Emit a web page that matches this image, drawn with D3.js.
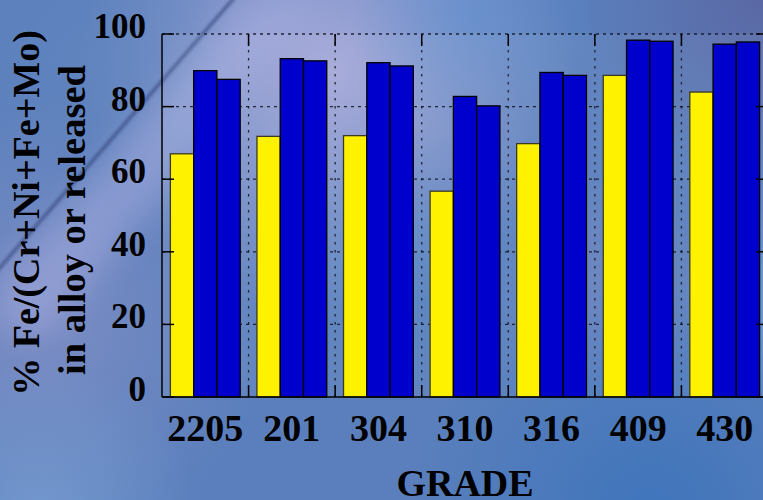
<!DOCTYPE html>
<html>
<head>
<meta charset="utf-8">
<script src="https://cdn.jsdelivr.net/npm/d3@7/dist/d3.min.js"></script>
<style>
  html, body { margin: 0; padding: 0; overflow: hidden; background: #5a7fbc; }
  svg { display: block; }
  text { font-family: "Liberation Serif", "Times New Roman", serif; font-weight: bold; fill: #000; }
</style>
</head>
<body>
<svg id="chart" width="763" height="500"></svg>
<script>
// ---- data ----
const categories = ["2205", "201", "304", "310", "316", "409", "430"];
const seriesNames = ["alloy", "released1", "released2"];
const alloyValues = [67.0, 71.8, 72.0, 56.7, 69.8, 88.6, 84.0];
const released1Values = [89.9, 93.2, 92.1, 82.8, 89.4, 98.3, 97.2];
const released2Values = [87.5, 92.6, 91.2, 80.2, 88.6, 98.0, 97.8];
const yTicks = [0, 20, 40, 60, 80, 100];
const gridValues = [20, 40, 60, 80, 100];
const seriesColors = ["#fff200", "#0000cc", "#0000cc"];
const xTitle = "GRADE";
const yTitleLines = ["% Fe/(Cr+Ni+Fe+Mo)", "in alloy or released"];

const W = 763, H = 500;
const margin = { left: 162, right: -5, top: 34, bottom: 103 };
const x0 = margin.left, x1 = W - margin.right, yTop = margin.top, yBot = H - margin.bottom;

const svg = d3.select("#chart");
const defs = svg.append("defs");

// ---- background ----
function radial(id, cx, cy, r, color, op) {
  const g = defs.append("radialGradient").attr("id", id)
    .attr("gradientUnits", "userSpaceOnUse").attr("cx", cx).attr("cy", cy).attr("r", r);
  g.append("stop").attr("offset", "0%").attr("stop-color", color).attr("stop-opacity", op);
  g.append("stop").attr("offset", "100%").attr("stop-color", color).attr("stop-opacity", 0);
  svg.append("rect").attr("width", W).attr("height", H).attr("fill", `url(#${id})`);
}
svg.append("rect").attr("width", W).attr("height", H).attr("fill", "#5a7fbc");
radial("g1", 330, 70, 250, "#aeaedc", 0.9);
radial("g2", 40, 320, 230, "#8490c6", 0.8);
radial("g3", 40, 520, 160, "#7ea6d8", 0.6);
radial("g4", 760, 0, 180, "#5a5c98", 0.65);
radial("g5", 650, 520, 240, "#3370bb", 0.7);
radial("g6", 790, 300, 110, "#72aee0", 0.5);
radial("g7", 470, 15, 120, "#5a92d2", 0.45);
radial("g8", 90, 60, 150, "#6688c0", 0.55);
radial("g9", 420, 260, 130, "#4f84c4", 0.45);
radial("g10", 600, 280, 110, "#7a84c0", 0.4);

const blur = defs.append("filter").attr("id", "blurBand").attr("x", "-50%").attr("y", "-50%").attr("width", "200%").attr("height", "200%");
blur.append("feGaussianBlur").attr("stdDeviation", 16);
const blur2 = defs.append("filter").attr("id", "blurLine");
blur2.append("feGaussianBlur").attr("stdDeviation", 1.4);

svg.append("polygon")
  .attr("points", "245,0 320,0 50,330 0,330 0,285")
  .attr("fill", "#a8aee0").attr("opacity", 0.5).attr("filter", "url(#blurBand)");
svg.append("line")
  .attr("x1", 234).attr("y1", -2).attr("x2", -4).attr("y2", 272)
  .attr("stroke", "#2e3e74").attr("stroke-width", 3.5).attr("opacity", 0.6)
  .attr("filter", "url(#blurLine)");

// ---- scales ----
const x = d3.scaleBand().domain(categories).range([x0, x1]).paddingInner(0).paddingOuter(0);
const xs = d3.scaleBand().domain(seriesNames).range([0, x.bandwidth()]).paddingInner(0).paddingOuter(0.36);
const y = d3.scaleLinear().domain([0, 100]).range([yBot, yTop]);

// plot area tint
svg.append("rect").attr("x", x0).attr("y", yTop).attr("width", x1 - x0).attr("height", yBot - yTop)
  .attr("fill", "#ffffff").attr("opacity", 0.05);

// ---- grid ----
const boundaries = categories.slice(1).map(c => x(c));
const grid = svg.append("g").attr("stroke", "#101018").attr("stroke-width", 1.3).attr("fill", "none");
grid.selectAll("line.h").data(gridValues).join("line")
  .attr("x1", x0).attr("x2", x1).attr("y1", d => y(d)).attr("y2", d => y(d))
  .attr("stroke-dasharray", "3,4").attr("opacity", 0.85);
grid.selectAll("line.v").data(boundaries).join("line")
  .attr("x1", d => d).attr("x2", d => d).attr("y1", yTop).attr("y2", yBot)
  .attr("stroke-dasharray", "2.5,5.5").attr("opacity", 0.85);

// ---- bars ----
const rows = categories.map((c, i) => ({
  cat: c,
  vals: [alloyValues[i], released1Values[i], released2Values[i]]
}));
const groups = svg.append("g").selectAll("g").data(rows).join("g")
  .attr("transform", d => `translate(${x(d.cat)},0)`);
groups.selectAll("rect").data(d => d.vals.map((v, k) => ({ s: seriesNames[k], v, k }))).join("rect")
  .attr("x", d => xs(d.s))
  .attr("width", xs.bandwidth())
  .attr("y", d => y(d.v))
  .attr("height", d => y(0) - y(d.v))
  .attr("fill", d => seriesColors[d.k])
  .attr("stroke", d => d.k === 0 ? "#3a3a20" : "#000")
  .attr("stroke-width", 1.3);

// ---- axes frame and ticks ----
const ax = svg.append("g").attr("stroke", "#000").attr("stroke-width", 1.5);
ax.append("line").attr("x1", x0).attr("x2", x0).attr("y1", yTop).attr("y2", yBot);
ax.append("line").attr("x1", x0).attr("x2", x1).attr("y1", yBot).attr("y2", yBot);
ax.append("line").attr("x1", x1).attr("x2", x1).attr("y1", yTop).attr("y2", yBot);
ax.selectAll("line.yl").data(yTicks).join("line")
  .attr("x1", x0).attr("x2", x0 + 12).attr("y1", d => y(d)).attr("y2", d => y(d));
ax.selectAll("line.yr").data(yTicks).join("line")
  .attr("x1", x1 - 12).attr("x2", x1).attr("y1", d => y(d)).attr("y2", d => y(d));
ax.selectAll("line.xb").data(boundaries).join("line")
  .attr("x1", d => d).attr("x2", d => d).attr("y1", yBot).attr("y2", yBot - 12);
ax.selectAll("line.xt").data(boundaries).join("line")
  .attr("x1", d => d).attr("x2", d => d).attr("y1", yTop).attr("y2", yTop + 12);

// ---- tick labels ----
svg.append("g").selectAll("text").data(yTicks).join("text")
  .attr("x", 146).attr("y", d => y(d) + 4)
  .attr("text-anchor", "end").attr("font-size", 35)
  .text(d => d);
svg.append("g").selectAll("text").data(categories).join("text")
  .attr("x", d => x(d) + x.bandwidth() / 2).attr("y", 441)
  .attr("text-anchor", "middle").attr("font-size", 38)
  .text(d => d);

// ---- titles ----
svg.append("text").attr("x", (x0 + x1) / 2).attr("y", 496)
  .attr("text-anchor", "middle").attr("font-size", 38).text(xTitle);
svg.append("text").attr("transform", "translate(39,213) rotate(-90)")
  .attr("text-anchor", "middle").attr("font-size", 38).text(yTitleLines[0]);
svg.append("text").attr("transform", "translate(85,220) rotate(-90)")
  .attr("text-anchor", "middle").attr("font-size", 38.5).text(yTitleLines[1]);
</script>
</body>
</html>
